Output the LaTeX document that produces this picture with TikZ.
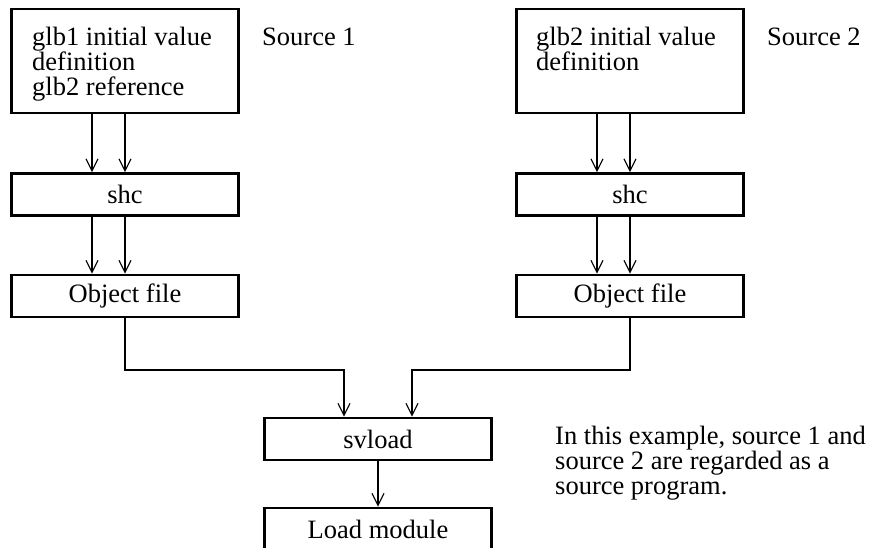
\documentclass[tikz,border=0pt]{standalone}
\usepackage{fontspec}
\setmainfont{Liberation Serif}
\usetikzlibrary{arrows.meta,calc}
\begin{document}
\begin{tikzpicture}[x=1pt,y=-1pt,
  font=\fontsize{26.5}{25}\selectfont,
  box/.style={draw,line width=2.6pt,minimum width=227pt,minimum height=42pt,inner sep=0pt},
  srcbox/.style={draw,line width=2.6pt,minimum width=227pt,minimum height=104pt,inner sep=0pt},
  lbl/.style={anchor=base west,inner sep=0pt,align=left},
  arr/.style={line width=1.2pt,-{Straight Barb[length=12pt,width=12pt,line width=1.2pt]}},
  wire/.style={line width=1.2pt}]
\useasboundingbox (0,0) rectangle (871,547);

% source files (multi-line labels are anchored on their last baseline)
\node[srcbox] (s1) at (125,61) {};
\node[lbl] (s1txt) at (32,95) {glb1 initial value\\definition\\glb2 reference};
\node[lbl] (s1name) at (262,45) {Source 1};
\node[srcbox] (s2) at (630,61) {};
\node[lbl] (s2txt) at (536,70) {glb2 initial value\\definition};
\node[lbl] (s2name) at (767,45) {Source 2};

% compiler and object files
\node[box] (shc1) at (125,194.5) {shc};
\node[box] (shc2) at (630,194.5) {shc};
\node[box] (obj1) at (125,296) {Object file};
\node[box] (obj2) at (630,296) {Object file};

% linker and result
\node[box] (sv) at (378,439) {svload};
\node[box] (lm) at (378,529) {Load module};
\node[lbl] (note) at (555,494) {In this example, source 1 and\\source 2 are regarded as a\\source program.};

% connectors
\foreach \c/\d in {s1/shc1,shc1/obj1,s2/shc2,shc2/obj2}{
  \draw[arr] ([xshift=-33pt]\c.south) -- ([xshift=-33pt]\d.north);
  \draw[arr] (\c.south) -- (\d.north);
}
\coordinate (bus) at (0,370);
\draw[arr] (obj1.south) -- (obj1.south |- bus) -| ([xshift=-34pt]sv.north);
\draw[arr] (obj2.south) -- (obj2.south |- bus) -| ([xshift=34pt]sv.north);
\draw[arr] (sv.south) -- (lm.north);
\end{tikzpicture}
\end{document}
